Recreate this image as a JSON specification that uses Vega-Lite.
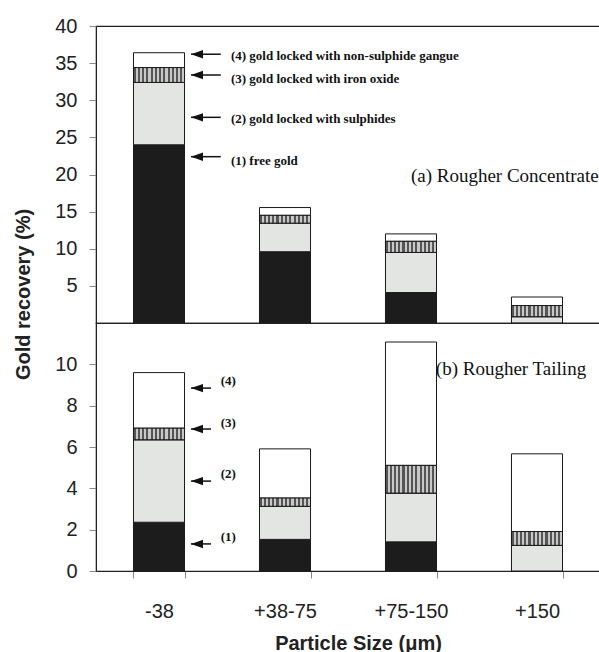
{
  "$schema": "https://vega.github.io/schema/vega-lite/v6.json",
  "padding": {"left": 12, "top": 15, "right": 0, "bottom": 0},
  "background": "white",
  "spacing": 0,
  "bounds": "flush",
  "config": {
    "view": {"stroke": "#222", "strokeWidth": 1.2},
    "axis": {"grid": false, "domainColor": "#222", "tickColor": "#888", "tickSize": 7, "labelFont": "Liberation Sans", "labelFontSize": 20, "labelColor": "#222", "titleFont": "Liberation Sans", "titleFontSize": 20, "titleFontWeight": "bold", "titleColor": "#222"}
  },
  "datasets": {
    "bars": [
      {"panel": "a", "size": "-38", "cat": "1 free gold", "value": 24.0},
      {"panel": "a", "size": "-38", "cat": "2 sulphides", "value": 8.4},
      {"panel": "a", "size": "-38", "cat": "3 iron oxide", "value": 2.0},
      {"panel": "a", "size": "-38", "cat": "4 non-sulphide gangue", "value": 2.0},
      {"panel": "a", "size": "+38-75", "cat": "1 free gold", "value": 9.6},
      {"panel": "a", "size": "+38-75", "cat": "2 sulphides", "value": 3.85},
      {"panel": "a", "size": "+38-75", "cat": "3 iron oxide", "value": 1.05},
      {"panel": "a", "size": "+38-75", "cat": "4 non-sulphide gangue", "value": 1.05},
      {"panel": "a", "size": "+75-150", "cat": "1 free gold", "value": 4.1},
      {"panel": "a", "size": "+75-150", "cat": "2 sulphides", "value": 5.4},
      {"panel": "a", "size": "+75-150", "cat": "3 iron oxide", "value": 1.5},
      {"panel": "a", "size": "+75-150", "cat": "4 non-sulphide gangue", "value": 1.0},
      {"panel": "a", "size": "+150", "cat": "1 free gold", "value": 0},
      {"panel": "a", "size": "+150", "cat": "2 sulphides", "value": 0.85},
      {"panel": "a", "size": "+150", "cat": "3 iron oxide", "value": 1.5},
      {"panel": "a", "size": "+150", "cat": "4 non-sulphide gangue", "value": 1.15},
      {"panel": "b", "size": "-38", "cat": "1 free gold", "value": 2.36},
      {"panel": "b", "size": "-38", "cat": "2 sulphides", "value": 3.99},
      {"panel": "b", "size": "-38", "cat": "3 iron oxide", "value": 0.56},
      {"panel": "b", "size": "-38", "cat": "4 non-sulphide gangue", "value": 2.69},
      {"panel": "b", "size": "+38-75", "cat": "1 free gold", "value": 1.53},
      {"panel": "b", "size": "+38-75", "cat": "2 sulphides", "value": 1.6},
      {"panel": "b", "size": "+38-75", "cat": "3 iron oxide", "value": 0.4},
      {"panel": "b", "size": "+38-75", "cat": "4 non-sulphide gangue", "value": 2.38},
      {"panel": "b", "size": "+75-150", "cat": "1 free gold", "value": 1.41},
      {"panel": "b", "size": "+75-150", "cat": "2 sulphides", "value": 2.36},
      {"panel": "b", "size": "+75-150", "cat": "3 iron oxide", "value": 1.34},
      {"panel": "b", "size": "+75-150", "cat": "4 non-sulphide gangue", "value": 5.97},
      {"panel": "b", "size": "+150", "cat": "1 free gold", "value": 0},
      {"panel": "b", "size": "+150", "cat": "2 sulphides", "value": 1.24},
      {"panel": "b", "size": "+150", "cat": "3 iron oxide", "value": 0.67},
      {"panel": "b", "size": "+150", "cat": "4 non-sulphide gangue", "value": 3.76}
    ],
    "ann": [
      {"panel": "a", "ax0": 0.754, "ax1": 0.99, "ay": 36.2, "tx": 1.071, "ty": 36.0, "label": "(4) gold locked with non-sulphide gangue"},
      {"panel": "a", "ax0": 0.754, "ax1": 0.99, "ay": 33.4, "tx": 1.071, "ty": 32.9, "label": "(3) gold locked with iron oxide"},
      {"panel": "a", "ax0": 0.754, "ax1": 0.99, "ay": 27.7, "tx": 1.071, "ty": 27.5, "label": "(2) gold locked with sulphides"},
      {"panel": "a", "ax0": 0.754, "ax1": 0.99, "ay": 22.4, "tx": 1.071, "ty": 21.8, "label": "(1) free gold"},
      {"panel": "b", "ax0": 0.754, "ax1": 0.913, "ay": 8.85, "tx": 0.99, "ty": 9.19, "label": "(4)"},
      {"panel": "b", "ax0": 0.754, "ax1": 0.913, "ay": 6.87, "tx": 0.99, "ty": 7.16, "label": "(3)"},
      {"panel": "b", "ax0": 0.754, "ax1": 0.913, "ay": 4.35, "tx": 0.99, "ty": 4.69, "label": "(2)"},
      {"panel": "b", "ax0": 0.754, "ax1": 0.913, "ay": 1.31, "tx": 0.99, "ty": 1.64, "label": "(1)"}
    ],
    "titles": [
      {"panel": "a", "x": 3.99, "y": 19.8, "t": "(a) Rougher Concentrate"},
      {"panel": "b", "x": 3.89, "y": 9.78, "t": "(b) Rougher Tailing"}
    ]
  },
  "vconcat": [
    {
      "width": 504,
      "height": 297,
      "layer": [
        {
          "data": {"name": "bars"},
          "transform": [{"filter": "datum.panel === 'a'"}, {"stack": "value", "groupby": ["size"], "sort": [{"field": "cat", "order": "ascending"}], "as": ["v0", "v1"]}],
          "mark": {"type": "bar", "stroke": "#1a1a1a", "strokeWidth": 1},
          "encoding": {
            "x": {"field": "size", "type": "nominal", "sort": ["-38", "+38-75", "+75-150", "+150"], "scale": {"paddingInner": 0.595, "paddingOuter": 0.2976}, "axis": null},
            "y": {"field": "v0", "type": "quantitative", "scale": {"domain": [0, 40], "nice": false}, "axis": {"values": [5, 10, 15, 20, 25, 30, 35, 40], "title": "Gold recovery (%)", "titleX": -73, "titleY": 268, "titleAngle": -90, "titleAlign": "center", "titleBaseline": "middle", "labelPadding": 12}},
            "y2": {"field": "v1"},
            "fill": {"field": "cat", "type": "nominal", "scale": {"domain": ["1 free gold", "2 sulphides", "3 iron oxide", "4 non-sulphide gangue"], "range": ["#1c1c1c", "#e3e5e3", "#8c8c8c", "#ffffff"]}, "legend": null}
          }
        },
        {
          "data": {"name": "bars"},
          "transform": [{"filter": "datum.panel === 'a'"}, {"stack": "value", "groupby": ["size"], "sort": [{"field": "cat", "order": "ascending"}], "as": ["v0", "v1"]}, {"filter": "datum.cat === '3 iron oxide' && datum.value > 0"}],
          "mark": {"type": "bar", "stroke": "#1a1a1a", "strokeWidth": 1, "fill": {"gradient": "linear", "x1": 0, "x2": 1, "y1": 0, "y2": 0, "stops": [
            {"offset": 0, "color": "#555555"}, {"offset": 0.0417, "color": "#555555"}, {"offset": 0.0417, "color": "#c8c8c8"}, {"offset": 0.0833, "color": "#c8c8c8"},
            {"offset": 0.0833, "color": "#555555"}, {"offset": 0.125, "color": "#555555"}, {"offset": 0.125, "color": "#c8c8c8"}, {"offset": 0.1667, "color": "#c8c8c8"},
            {"offset": 0.1667, "color": "#555555"}, {"offset": 0.2083, "color": "#555555"}, {"offset": 0.2083, "color": "#c8c8c8"}, {"offset": 0.25, "color": "#c8c8c8"},
            {"offset": 0.25, "color": "#555555"}, {"offset": 0.2917, "color": "#555555"}, {"offset": 0.2917, "color": "#c8c8c8"}, {"offset": 0.3333, "color": "#c8c8c8"},
            {"offset": 0.3333, "color": "#555555"}, {"offset": 0.375, "color": "#555555"}, {"offset": 0.375, "color": "#c8c8c8"}, {"offset": 0.4167, "color": "#c8c8c8"},
            {"offset": 0.4167, "color": "#555555"}, {"offset": 0.4583, "color": "#555555"}, {"offset": 0.4583, "color": "#c8c8c8"}, {"offset": 0.5, "color": "#c8c8c8"},
            {"offset": 0.5, "color": "#555555"}, {"offset": 0.5417, "color": "#555555"}, {"offset": 0.5417, "color": "#c8c8c8"}, {"offset": 0.5833, "color": "#c8c8c8"},
            {"offset": 0.5833, "color": "#555555"}, {"offset": 0.625, "color": "#555555"}, {"offset": 0.625, "color": "#c8c8c8"}, {"offset": 0.6667, "color": "#c8c8c8"},
            {"offset": 0.6667, "color": "#555555"}, {"offset": 0.7083, "color": "#555555"}, {"offset": 0.7083, "color": "#c8c8c8"}, {"offset": 0.75, "color": "#c8c8c8"},
            {"offset": 0.75, "color": "#555555"}, {"offset": 0.7917, "color": "#555555"}, {"offset": 0.7917, "color": "#c8c8c8"}, {"offset": 0.8333, "color": "#c8c8c8"},
            {"offset": 0.8333, "color": "#555555"}, {"offset": 0.875, "color": "#555555"}, {"offset": 0.875, "color": "#c8c8c8"}, {"offset": 0.9167, "color": "#c8c8c8"},
            {"offset": 0.9167, "color": "#555555"}, {"offset": 0.9583, "color": "#555555"}, {"offset": 0.9583, "color": "#c8c8c8"}, {"offset": 1, "color": "#c8c8c8"}
          ]}},
          "encoding": {
            "x": {"field": "size", "type": "nominal", "sort": ["-38", "+38-75", "+75-150", "+150"], "scale": {"paddingInner": 0.595, "paddingOuter": 0.2976}, "axis": null},
            "y": {"field": "v0", "type": "quantitative", "scale": {"domain": [0, 40], "nice": false}},
            "y2": {"field": "v1"}
          }
        },
        {
          "data": {"name": "ann"},
          "transform": [{"filter": "datum.panel === 'a'"}],
          "mark": {"type": "rule", "stroke": "#111", "strokeWidth": 1.5},
          "encoding": {
            "x": {"field": "ax0", "type": "quantitative", "scale": {"domain": [0, 4], "nice": false, "zero": false}, "axis": null},
            "x2": {"field": "ax1"},
            "y": {"field": "ay", "type": "quantitative", "scale": {"domain": [0, 40], "nice": false}}
          }
        },
        {
          "data": {"name": "ann"},
          "transform": [{"filter": "datum.panel === 'a'"}],
          "mark": {"type": "point", "shape": "M0,0L1,-0.35L1,0.35Z", "size": 576, "filled": true, "color": "#111", "opacity": 1, "strokeWidth": 0},
          "encoding": {
            "x": {"field": "ax0", "type": "quantitative", "scale": {"domain": [0, 4], "nice": false, "zero": false}, "axis": null},
            "y": {"field": "ay", "type": "quantitative", "scale": {"domain": [0, 40], "nice": false}}
          }
        },
        {
          "data": {"name": "ann"},
          "transform": [{"filter": "datum.panel === 'a'"}],
          "mark": {"type": "text", "font": "Liberation Serif", "fontWeight": "bold", "fontSize": 13, "align": "left", "baseline": "middle", "color": "#111"},
          "encoding": {
            "x": {"field": "tx", "type": "quantitative", "scale": {"domain": [0, 4], "nice": false, "zero": false}, "axis": null},
            "y": {"field": "ty", "type": "quantitative", "scale": {"domain": [0, 40], "nice": false}},
            "text": {"field": "label"}
          }
        },
        {
          "data": {"name": "titles"},
          "transform": [{"filter": "datum.panel === 'a'"}],
          "mark": {"type": "text", "font": "Liberation Serif", "fontSize": 19, "align": "right", "baseline": "middle", "color": "#111"},
          "encoding": {
            "x": {"field": "x", "type": "quantitative", "scale": {"domain": [0, 4], "nice": false, "zero": false}, "axis": null},
            "y": {"field": "y", "type": "quantitative", "scale": {"domain": [0, 40], "nice": false}},
            "text": {"field": "t"}
          }
        }
      ],
      "resolve": {"scale": {"x": "independent"}}
    },
    {
      "width": 504,
      "height": 248,
      "layer": [
        {
          "data": {"name": "bars"},
          "transform": [{"filter": "datum.panel === 'b'"}, {"stack": "value", "groupby": ["size"], "sort": [{"field": "cat", "order": "ascending"}], "as": ["v0", "v1"]}],
          "mark": {"type": "bar", "stroke": "#1a1a1a", "strokeWidth": 1},
          "encoding": {
            "x": {"field": "size", "type": "nominal", "sort": ["-38", "+38-75", "+75-150", "+150"], "scale": {"paddingInner": 0.595, "paddingOuter": 0.2976}, "axis": {"title": "Particle Size (μm)", "labelAngle": 0, "labelPadding": 23, "tickBand": "extent", "titlePadding": 12, "titleX": 262}},
            "y": {"field": "v0", "type": "quantitative", "scale": {"domain": [0, 12], "nice": false}, "axis": {"values": [0, 2, 4, 6, 8, 10], "title": null, "labelPadding": 12}},
            "y2": {"field": "v1"},
            "fill": {"field": "cat", "type": "nominal", "scale": {"domain": ["1 free gold", "2 sulphides", "3 iron oxide", "4 non-sulphide gangue"], "range": ["#1c1c1c", "#e3e5e3", "#8c8c8c", "#ffffff"]}, "legend": null}
          }
        },
        {
          "data": {"name": "bars"},
          "transform": [{"filter": "datum.panel === 'b'"}, {"stack": "value", "groupby": ["size"], "sort": [{"field": "cat", "order": "ascending"}], "as": ["v0", "v1"]}, {"filter": "datum.cat === '3 iron oxide' && datum.value > 0"}],
          "mark": {"type": "bar", "stroke": "#1a1a1a", "strokeWidth": 1, "fill": {"gradient": "linear", "x1": 0, "x2": 1, "y1": 0, "y2": 0, "stops": [
            {"offset": 0, "color": "#555555"}, {"offset": 0.0417, "color": "#555555"}, {"offset": 0.0417, "color": "#c8c8c8"}, {"offset": 0.0833, "color": "#c8c8c8"},
            {"offset": 0.0833, "color": "#555555"}, {"offset": 0.125, "color": "#555555"}, {"offset": 0.125, "color": "#c8c8c8"}, {"offset": 0.1667, "color": "#c8c8c8"},
            {"offset": 0.1667, "color": "#555555"}, {"offset": 0.2083, "color": "#555555"}, {"offset": 0.2083, "color": "#c8c8c8"}, {"offset": 0.25, "color": "#c8c8c8"},
            {"offset": 0.25, "color": "#555555"}, {"offset": 0.2917, "color": "#555555"}, {"offset": 0.2917, "color": "#c8c8c8"}, {"offset": 0.3333, "color": "#c8c8c8"},
            {"offset": 0.3333, "color": "#555555"}, {"offset": 0.375, "color": "#555555"}, {"offset": 0.375, "color": "#c8c8c8"}, {"offset": 0.4167, "color": "#c8c8c8"},
            {"offset": 0.4167, "color": "#555555"}, {"offset": 0.4583, "color": "#555555"}, {"offset": 0.4583, "color": "#c8c8c8"}, {"offset": 0.5, "color": "#c8c8c8"},
            {"offset": 0.5, "color": "#555555"}, {"offset": 0.5417, "color": "#555555"}, {"offset": 0.5417, "color": "#c8c8c8"}, {"offset": 0.5833, "color": "#c8c8c8"},
            {"offset": 0.5833, "color": "#555555"}, {"offset": 0.625, "color": "#555555"}, {"offset": 0.625, "color": "#c8c8c8"}, {"offset": 0.6667, "color": "#c8c8c8"},
            {"offset": 0.6667, "color": "#555555"}, {"offset": 0.7083, "color": "#555555"}, {"offset": 0.7083, "color": "#c8c8c8"}, {"offset": 0.75, "color": "#c8c8c8"},
            {"offset": 0.75, "color": "#555555"}, {"offset": 0.7917, "color": "#555555"}, {"offset": 0.7917, "color": "#c8c8c8"}, {"offset": 0.8333, "color": "#c8c8c8"},
            {"offset": 0.8333, "color": "#555555"}, {"offset": 0.875, "color": "#555555"}, {"offset": 0.875, "color": "#c8c8c8"}, {"offset": 0.9167, "color": "#c8c8c8"},
            {"offset": 0.9167, "color": "#555555"}, {"offset": 0.9583, "color": "#555555"}, {"offset": 0.9583, "color": "#c8c8c8"}, {"offset": 1, "color": "#c8c8c8"}
          ]}},
          "encoding": {
            "x": {"field": "size", "type": "nominal", "sort": ["-38", "+38-75", "+75-150", "+150"], "scale": {"paddingInner": 0.595, "paddingOuter": 0.2976}, "axis": null},
            "y": {"field": "v0", "type": "quantitative", "scale": {"domain": [0, 12], "nice": false}},
            "y2": {"field": "v1"}
          }
        },
        {
          "data": {"name": "ann"},
          "transform": [{"filter": "datum.panel === 'b'"}],
          "mark": {"type": "rule", "stroke": "#111", "strokeWidth": 1.5},
          "encoding": {
            "x": {"field": "ax0", "type": "quantitative", "scale": {"domain": [0, 4], "nice": false, "zero": false}, "axis": null},
            "x2": {"field": "ax1"},
            "y": {"field": "ay", "type": "quantitative", "scale": {"domain": [0, 12], "nice": false}}
          }
        },
        {
          "data": {"name": "ann"},
          "transform": [{"filter": "datum.panel === 'b'"}],
          "mark": {"type": "point", "shape": "M0,0L1,-0.35L1,0.35Z", "size": 576, "filled": true, "color": "#111", "opacity": 1, "strokeWidth": 0},
          "encoding": {
            "x": {"field": "ax0", "type": "quantitative", "scale": {"domain": [0, 4], "nice": false, "zero": false}, "axis": null},
            "y": {"field": "ay", "type": "quantitative", "scale": {"domain": [0, 12], "nice": false}}
          }
        },
        {
          "data": {"name": "ann"},
          "transform": [{"filter": "datum.panel === 'b'"}],
          "mark": {"type": "text", "font": "Liberation Serif", "fontWeight": "bold", "fontSize": 13, "align": "left", "baseline": "middle", "color": "#111"},
          "encoding": {
            "x": {"field": "tx", "type": "quantitative", "scale": {"domain": [0, 4], "nice": false, "zero": false}, "axis": null},
            "y": {"field": "ty", "type": "quantitative", "scale": {"domain": [0, 12], "nice": false}},
            "text": {"field": "label"}
          }
        },
        {
          "data": {"name": "titles"},
          "transform": [{"filter": "datum.panel === 'b'"}],
          "mark": {"type": "text", "font": "Liberation Serif", "fontSize": 19, "align": "right", "baseline": "middle", "color": "#111"},
          "encoding": {
            "x": {"field": "x", "type": "quantitative", "scale": {"domain": [0, 4], "nice": false, "zero": false}, "axis": null},
            "y": {"field": "y", "type": "quantitative", "scale": {"domain": [0, 12], "nice": false}},
            "text": {"field": "t"}
          }
        }
      ],
      "resolve": {"scale": {"x": "independent"}}
    }
  ]
}
